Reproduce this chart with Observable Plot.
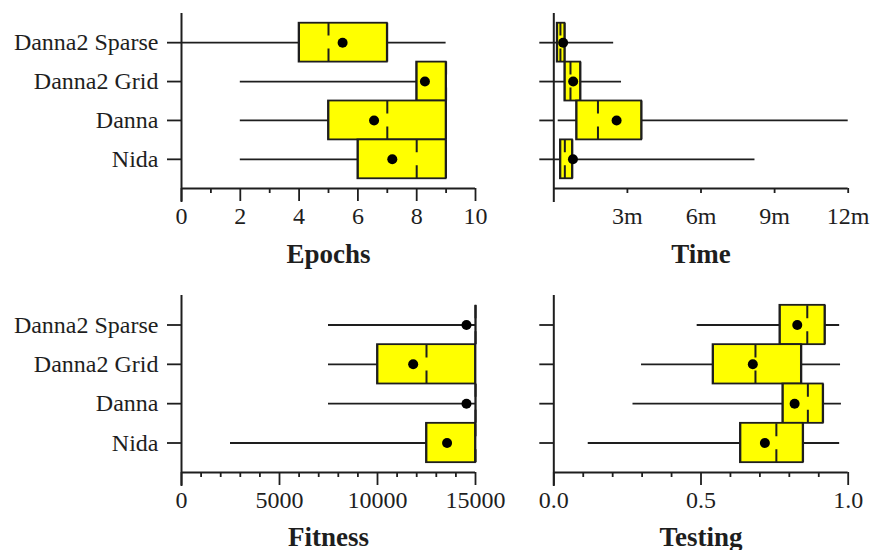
<!DOCTYPE html>
<html>
<head>
<meta charset="utf-8">
<script src="https://cdn.jsdelivr.net/npm/d3@7"></script>
<script src="https://cdn.jsdelivr.net/npm/@observablehq/plot@0.6"></script>
<style>
  html, body { margin: 0; padding: 0; background: #fff; }
  #chart { position: relative; width: 870px; height: 550px; overflow: hidden; background: #fff; }
  #chart svg { position: absolute; overflow: visible; }
</style>
</head>
<body>
<div id="chart"></div>
<script>
// ---- data ----
const categories = ["Danna2 Sparse", "Danna2 Grid", "Danna", "Nida"];

// Epochs
const epochsMin    = [0, 2, 2, 2];
const epochsQ1     = [4, 8, 5, 6];
const epochsMedian = [5, 9, 7, 8];
const epochsQ3     = [7, 9, 9, 9];
const epochsMax    = [9, 9, 9, 9];
const epochsMean   = [5.48, 8.28, 6.55, 7.17];

// Time (minutes)
const timeMin    = [0, 0, 0.18, 0];
const timeQ1     = [0.14, 0.45, 0.93, 0.27];
const timeMedian = [0.27, 0.68, 1.8, 0.45];
const timeQ3     = [0.45, 1.09, 3.58, 0.76];
const timeMax    = [2.44, 2.76, 12, 8.2];
const timeMean   = [0.38, 0.79, 2.56, 0.78];

// Fitness
const fitnessMin    = [7500, 7500, 7500, 2500];
const fitnessQ1     = [15000, 10000, 15000, 12500];
const fitnessMedian = [15000, 12500, 15000, 15000];
const fitnessQ3     = [15000, 15000, 15000, 15000];
const fitnessMax    = [15000, 15000, 15000, 15000];
const fitnessMean   = [14540, 11820, 14540, 13550];

// Testing
const testingMin    = [0.487, 0.298, 0.269, 0.117];
const testingQ1     = [0.768, 0.541, 0.778, 0.634];
const testingMedian = [0.861, 0.685, 0.863, 0.756];
const testingQ3     = [0.921, 0.841, 0.915, 0.847];
const testingMax    = [0.971, 0.974, 0.977, 0.971];
const testingMean   = [0.827, 0.676, 0.818, 0.717];

// tick values and labels
const epochsTicks = [0, 2, 4, 6, 8, 10];
const epochsMinor = [1, 3, 5, 7, 9];
const timeTicks = [3, 6, 9, 12];
const timeTickLabels = ["3m", "6m", "9m", "12m"];
const fitnessTicks = [0, 5000, 10000, 15000];
const fitnessMinor = [1000, 2000, 3000, 4000, 6000, 7000, 8000, 9000, 11000, 12000, 13000, 14000];
const testingTicks = [0, 0.5, 1];
const testingTickLabels = ["0.0", "0.5", "1.0"];
const testingMinor = [0.1, 0.2, 0.3, 0.4, 0.6, 0.7, 0.8, 0.9];

// ---- drawing ----
const INK = "#1e1e1e";
const rowsOf = (mn, q1, md, q3, mx, mean) =>
  categories.map((c, i) => ({cat: c, pos: categories.length - i, min: mn[i], q1: q1[i], median: md[i], q3: q3[i], max: mx[i], mean: mean[i]}));

function panel(o) {
  const rows = o.rows;
  const y1 = d => d.pos - 0.5, y2 = d => d.pos + 0.5;
  const marks = [
    // whiskers
    Plot.ruleY(rows, {y: "pos", x1: "min", x2: "max", stroke: INK, strokeWidth: 1.8}),
    // boxes
    Plot.rect(rows, {x1: "q1", x2: "q3", y1, y2, fill: "#ffff00", stroke: INK, strokeWidth: 1.8}),
    Plot.ruleX(rows, {x: "q1", y1, y2, stroke: INK, strokeWidth: 1.8}),
    Plot.ruleX(rows, {x: "q3", y1, y2, stroke: INK, strokeWidth: 1.8}),
    // median (dashed)
    Plot.ruleX(rows, {x: "median", y1, y2, stroke: INK, strokeWidth: 2, strokeDasharray: "13,13"}),
    // mean
    Plot.dot(rows, {x: "mean", y: "pos", r: 5, fill: "#000", stroke: "none"}),
    // axis lines
    Plot.ruleX([o.xDomain[0]], {stroke: INK, strokeWidth: 2, insetBottom: -14}),
    Plot.ruleY([0.25], {stroke: INK, strokeWidth: 2}),
    // y ticks
    Plot.axisY([1, 2, 3, 4], {tickSize: 14, tickPadding: 9, strokeWidth: 1.8, label: null,
      tickFormat: p => o.showY ? categories[categories.length - p] : ""}),
    // x ticks
    Plot.axisX(o.majors, {tickSize: o.majorSize, tickPadding: 18 - o.majorSize, strokeWidth: 1.8, label: null,
      tickFormat: o.fmt}),
    // title
    Plot.text([o.title], {frameAnchor: "bottom", lineAnchor: "middle", dy: o.titleDy, fontWeight: "bold", fontSize: 27, fill: INK})
  ];
  if (o.minors && o.minors.length) {
    marks.push(Plot.axisX(o.minors, {tickSize: 5, strokeWidth: 1.8, label: null, tickFormat: () => ""}));
  }
  const svg = Plot.plot({
    width: o.width, height: 275,
    marginLeft: o.mLeft, marginRight: o.mRight, marginTop: o.mTop, marginBottom: o.mBottom,
    x: {domain: o.xDomain, label: null},
    y: {domain: [0.25, 4.75], label: null},
    style: {fontFamily: "'Liberation Serif', 'Times New Roman', serif", fontSize: "24px", color: INK, background: "transparent", overflow: "visible"},
    marks
  });
  svg.style.left = o.left + "px";
  svg.style.top = o.top + "px";
  document.getElementById("chart").appendChild(svg);
}

const leftW = 520, rightW = 350;
// top-left: Epochs
panel({rows: rowsOf(epochsMin, epochsQ1, epochsMedian, epochsQ3, epochsMax, epochsMean),
  xDomain: [0, 10], majors: epochsTicks, minors: epochsMinor, fmt: d => String(d), majorSize: 13,
  title: "Epochs", showY: true, left: 0, top: 0, width: leftW,
  mLeft: 181, mRight: leftW - 475, mTop: 13, mBottom: 275 - 188, titleDy: 66});
// top-right: Time
panel({rows: rowsOf(timeMin, timeQ1, timeMedian, timeQ3, timeMax, timeMean),
  xDomain: [0, 12], majors: timeTicks, minors: [], fmt: d => timeTickLabels[timeTicks.indexOf(d)], majorSize: 5,
  title: "Time", showY: false, left: leftW, top: 0, width: rightW,
  mLeft: 553.3 - leftW, mRight: rightW - (847.7 - leftW), mTop: 13, mBottom: 275 - 188, titleDy: 66});
// bottom-left: Fitness
panel({rows: rowsOf(fitnessMin, fitnessQ1, fitnessMedian, fitnessQ3, fitnessMax, fitnessMean),
  xDomain: [0, 15000], majors: fitnessTicks, minors: fitnessMinor, fmt: d => String(d), majorSize: 13,
  title: "Fitness", showY: true, left: 0, top: 275, width: leftW,
  mLeft: 181, mRight: leftW - 475, mTop: 20, mBottom: 275 - 197, titleDy: 65});
// bottom-right: Testing
panel({rows: rowsOf(testingMin, testingQ1, testingMedian, testingQ3, testingMax, testingMean),
  xDomain: [0, 1], majors: testingTicks, minors: testingMinor, fmt: d => testingTickLabels[testingTicks.indexOf(d)], majorSize: 13,
  title: "Testing", showY: false, left: leftW, top: 275, width: rightW,
  mLeft: 553.3 - leftW, mRight: rightW - (847.7 - leftW), mTop: 20, mBottom: 275 - 197, titleDy: 65});
</script>
</body>
</html>
